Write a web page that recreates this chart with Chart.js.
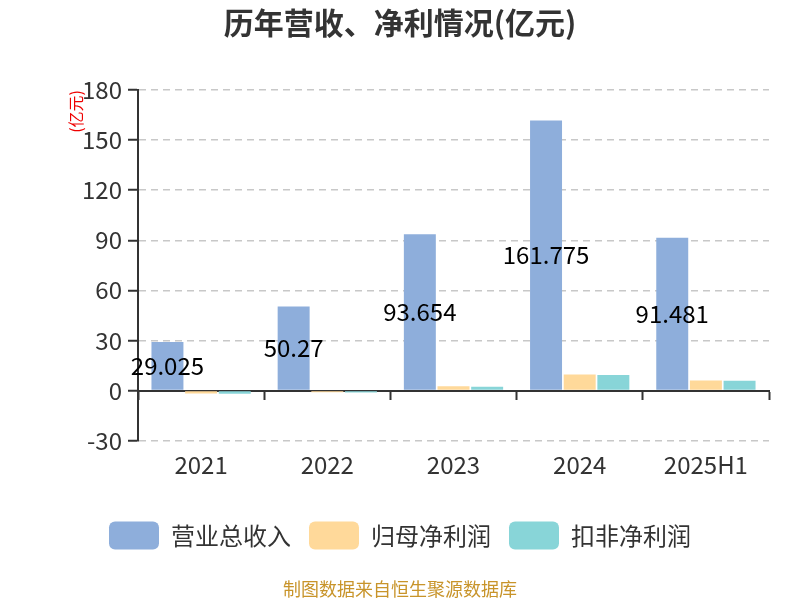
<!DOCTYPE html>
<html>
<head>
<meta charset="utf-8">
<script src="https://cdn.jsdelivr.net/npm/chart.js@4/dist/chart.umd.min.js"></script>
<style>
  html, body { margin: 0; padding: 0; background: #fff; }
  #wrap { width: 800px; height: 600px; }
</style>
</head>
<body>
<div id="wrap"><canvas id="myChart" width="800" height="600"></canvas></div>
<script>
const years = ['2021', '2022', '2023', '2024', '2025H1']
const revenue = [29.025, 50.27, 93.654, 161.775, 91.481]
const netProfit = [-1.8, -1.1, 2.5, 9.6, 6.0]
const deductedProfit = [-2.0, -1.2, 2.2, 9.3, 5.8]
const yTicks = [-30, 0, 30, 60, 90, 120, 150, 180]

const font = '"Noto Sans CJK SC", "Noto Sans", sans-serif'

// value labels inside the revenue bars
const barLabels = {
    id: 'barLabels',
    afterDatasetsDraw(chart) {
        const ctx = chart.ctx
        const meta = chart.getDatasetMeta(0)
        ctx.save()
        ctx.font = '24px ' + font
        ctx.fillStyle = '#000'
        ctx.textAlign = 'center'
        ctx.textBaseline = 'middle'
        meta.data.forEach((bar, i) => {
            ctx.fillText(String(revenue[i]), bar.x, (bar.y + bar.base) / 2)
        })
        ctx.restore()
    }
}

// center title, legend and source line on the whole canvas
const fullWidthBoxes = {
    id: 'fullWidthBoxes',
    afterLayout(chart) {
        [chart.titleBlock, chart.legend].concat(chart.boxes.filter(b => b.options && b.options.text === '制图数据来自恒生聚源数据库')).forEach(b => {
            if (!b) return
            b.left = 0
            b.right = chart.width
            b.width = chart.width
        })
    }
}

const ctx = document.getElementById('myChart').getContext('2d')
const config = {
    type: 'bar',
    data: {
        labels: years,
        datasets: [
            { label: '营业总收入', data: revenue, backgroundColor: '#8eaedb' },
            { label: '归母净利润', data: netProfit, backgroundColor: '#ffd99a' },
            { label: '扣非净利润', data: deductedProfit, backgroundColor: '#88d5d8' }
        ]
    },
    options: {
        responsive: false,
        animation: false,
        layout: { padding: { left: 0, right: 31, top: 0, bottom: 0 } },
        datasets: {
            bar: { categoryPercentage: 0.8, barPercentage: 0.95 }
        },
        plugins: {
            title: {
                display: true,
                text: '历年营收、净利情况(亿元)',
                color: '#333',
                font: { family: font, size: 30, weight: 'bold' },
                padding: { top: 5, bottom: 49 }
            },
            subtitle: {
                display: true,
                position: 'bottom',
                text: '制图数据来自恒生聚源数据库',
                color: '#c8942a',
                font: { family: font, size: 18 },
                padding: { top: 19, bottom: 0 }
            },
            legend: {
                position: 'bottom',
                labels: {
                    boxWidth: 50,
                    boxHeight: 28,
                    useBorderRadius: true,
                    borderRadius: 6,
                    color: '#333',
                    padding: 18,
                    font: { family: font, size: 24 }
                }
            },
            tooltip: { enabled: false }
        },
        scales: {
            x: {
                grid: { display: false },
                border: { display: false },
                ticks: { color: '#333', font: { family: font, size: 24 }, padding: 2 },
                afterFit: (axis) => { axis.height += 22 }
            },
            x2: {
                type: 'category',
                labels: years,
                position: { y: 0 },
                offset: true,
                grid: {
                    offset: true,
                    drawOnChartArea: false,
                    drawTicks: true,
                    tickLength: 8,
                    tickColor: '#333',
                    tickWidth: 2
                },
                border: { display: true, color: '#333', width: 2 },
                ticks: { display: false }
            },
            y: {
                min: -30,
                max: 180,
                afterBuildTicks: (axis) => { axis.ticks = yTicks.map(v => ({ value: v })) },
                afterFit: (axis) => { axis.width = 138 },
                grid: {
                    color: '#c8c8c8',
                    lineWidth: 1.5,
                    tickColor: '#333',
                    tickLength: 10,
                    tickWidth: 2
                },
                border: { display: true, color: '#333', width: 2, dash: [7, 5] },
                ticks: { color: '#333', font: { family: font, size: 24 }, padding: 6 },
                title: {
                    display: true,
                    text: '(亿元)',
                    align: 'end',
                    color: '#e00',
                    font: { family: font, size: 16 },
                    padding: { top: 66, bottom: 0 }
                }
            }
        }
    },
    plugins: [barLabels, fullWidthBoxes]
}
const myChart = new Chart(ctx, config)
</script>
</body>
</html>
